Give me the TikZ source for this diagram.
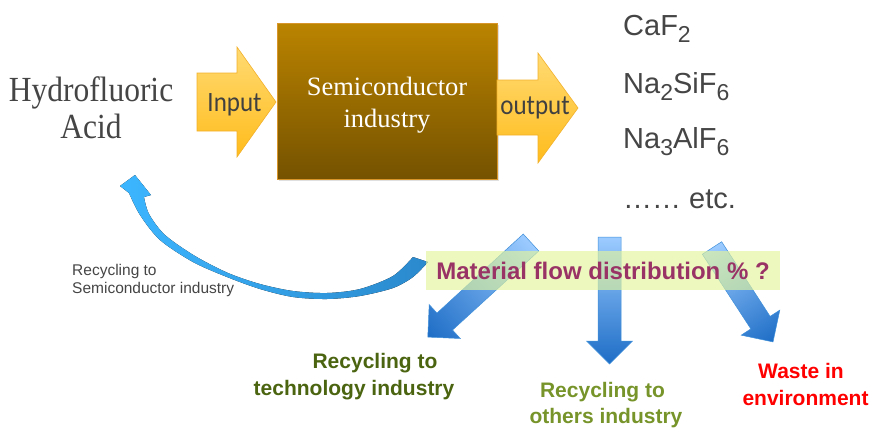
\documentclass[tikz,border=0pt]{standalone}
\usepackage{fontspec}
\setmainfont{Liberation Serif}
\newfontfamily\arialfam{Liberation Sans}
\newfontfamily\calibfam{Carlito}
\usetikzlibrary{shadows}

% lowered chemical index
\newcommand\lowsub[1]{\raisebox{-7pt}{\fontsize{23}{23}\selectfont #1}}
% slightly taller lettering
\newcommand\talltext[1]{\scalebox{1}[1.12]{#1}}

\definecolor{hfgray}{HTML}{454545}
\definecolor{arrowtop}{HTML}{FFDA72}
\definecolor{arrowbot}{HTML}{FFBC1C}
\definecolor{arrowedge}{HTML}{F2B02A}
\definecolor{boxtop}{HTML}{BB8400}
\definecolor{boxbot}{HTML}{755200}
\definecolor{boxedge}{HTML}{D8962A}
\definecolor{flowlight}{HTML}{9CCBFF}
\definecolor{flowdark}{HTML}{1D6DC6}
\definecolor{flowedge}{HTML}{3F8FD9}
\definecolor{labelfill}{HTML}{E3F59C}
\definecolor{labeltext}{HTML}{993366}
\definecolor{techgreen}{HTML}{4A6410}
\definecolor{othergreen}{HTML}{77942A}
\definecolor{wastered}{HTML}{FF0000}
\definecolor{loopleft}{HTML}{3CB6FF}
\definecolor{loopmid}{HTML}{8FD2F7}
\definecolor{loopright}{HTML}{2B89CC}

% straight block arrow along the local x axis: tail at #1, angle #2, length #3
\newcommand\flowarrow[3]{%
  \begin{scope}[transform canvas={shift={#1},rotate=#2}]
    \draw[flowshape] (0,-11.5) -- ({#3-23},-11.5) -- ({#3-23},-23) -- (#3,0)
      -- ({#3-23},23) -- ({#3-23},11.5) -- (0,11.5) -- cycle;
  \end{scope}}

\begin{document}
\begin{tikzpicture}[x=1pt,y=-1pt,
  txt/.style={inner sep=0pt, anchor=base},
  serifbig/.style={txt, text=hfgray, font=\fontsize{31.5}{37}\selectfont},
  chem/.style={txt, anchor=base west, text=hfgray, font=\arialfam\fontsize{29}{34}\selectfont},
  yarrow/.style={draw=arrowedge, line width=0.6pt, top color=arrowtop, bottom color=arrowbot},
  arrowlabel/.style={txt, text=black!75, font=\calibfam\fontsize{25}{30}\selectfont},
  flowshape/.style={draw=flowedge, line width=0.5pt, left color=flowlight, right color=flowdark},
  boldlabel/.style={txt, font=\arialfam\bfseries\fontsize{21}{26}\selectfont},
  smalllabel/.style={txt, anchor=base west, text=hfgray, font=\arialfam\fontsize{15.5}{18}\selectfont}]
\useasboundingbox (0,0) rectangle (882,431);

% feed material
\node[serifbig] (hf1) at (91,101) {\talltext{Hydrofluoric}};
\node[serifbig] (hf2) at (91,138) {\talltext{Acid}};

% industry block
\node[draw=boxedge, line width=0.8pt, top color=boxtop, bottom color=boxbot,
      minimum width=220pt, minimum height=156pt, inner sep=0pt,
      drop shadow={shadow xshift=2pt, shadow yshift=-2pt, opacity=0.25}]
      (semi) at (387,101) {};
\node[txt, text=white, font=\fontsize{26.5}{32}\selectfont] (semi1) at (387,95) {Semiconductor};
\node[txt, text=white, font=\fontsize{26.5}{32}\selectfont] (semi2) at (387,127) {industry};

% input and output arrows
\draw[yarrow] (197,73) -- (237,73) -- (237,47) -- (276,102) -- (237,157) -- (237,131) -- (197,131) -- cycle;
\node[arrowlabel] (inp) at (234.5,111) {\talltext{Input}};
\draw[yarrow] (497,80) -- (538,80) -- (538,53) -- (578,108) -- (538,163) -- (538,135) -- (497,135) -- cycle;
\node[arrowlabel] (outp) at (535,114) {\talltext{output}};

% products
\node[chem] (p1) at (623,35) {CaF\lowsub{2}};
\node[chem] (p2) at (623,93) {Na\lowsub{2}SiF\lowsub{6}};
\node[chem] (p3) at (623,148) {Na\lowsub{3}AlF\lowsub{6}};
\node[chem] (p4) at (623,208) {…… etc.};

% curved return arrow, tapering towards its middle
\fill[left color=loopleft, middle color=loopmid, right color=loopright]
  plot[smooth] coordinates {(428,262) (413,277) (393,288) (360,296) (327,299)
                            (293,297) (260,289) (227,277) (193,262) (160,240)
                            (140,215) (129,193)}
  -- (120,186) -- (135,175) -- (151,195)
  -- plot[smooth] coordinates {(144,197) (149,214) (165,235) (195,256) (228,273)
                               (260,284) (293,291) (327,293) (360,289) (393,276)
                               (413,257)}
  -- cycle;
\node[smalllabel] (rs1) at (72,275) {Recycling to};
\node[smalllabel] (rs2) at (72,293) {Semiconductor industry};

% distribution arrows
\flowarrow{(531,242.5)}{222.5}{140}
\flowarrow{(609.5,237)}{-90}{127}
\flowarrow{(712,248)}{-57}{112}

% distribution label
\node[fill=labelfill, fill opacity=0.65, text opacity=1, text=labeltext,
      minimum width=354pt, minimum height=39pt, inner sep=0pt,
      font=\arialfam\bfseries\fontsize{24}{28}\selectfont]
      (flow) at (603,270.5) {Material flow distribution \% ?};

% destinations
\node[boldlabel, text=techgreen] (t1) at (375,368) {Recycling to};
\node[boldlabel, text=techgreen] (t2) at (354,395) {technology industry};
\node[boldlabel, text=othergreen] (o1) at (602.5,397) {Recycling to};
\node[boldlabel, text=othergreen] (o2) at (606,423) {others industry};
\node[boldlabel, text=wastered] (w1) at (801,378) {Waste in};
\node[boldlabel, text=wastered] (w2) at (805.5,405) {environment};
\end{tikzpicture}
\end{document}
